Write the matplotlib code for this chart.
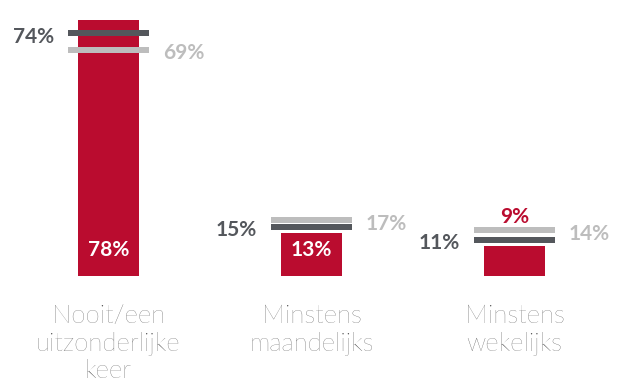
import matplotlib.pyplot as plt

categories = ["Nooit/een\nuitzonderlijke\nkeer", "Minstens\nmaandelijks", "Minstens\nwekelijks"]
current = [78, 13, 9]        # red bars
dark_ref = [74, 15, 11]      # dark grey markers
light_ref = [69, 17, 14]     # light grey markers

RED = "#ba0c2f"
DARK = "#54575c"
LIGHT = "#bdbdbd"
TEXT = "#4a4a4a"

plt.rcParams['font.family'] = ['Lato', 'DejaVu Sans']

fig = plt.figure(figsize=(6.22, 3.82), dpi=100)
ax = fig.add_axes([0, (382 - 276) / 382, 1, 262.4 / 382])
ax.set_xlim(-108.5 / 203, (622 - 108.5) / 203)
ax.set_ylim(0, 80)
ax.axis('off')

x = list(range(len(categories)))
bar_w = 61 / 203
mark_w = 81 / 203
lw = 6 * 0.72
fs = 15

ax.bar(x, current, width=bar_w, color=RED, zorder=1)

for i in x:
    # reference markers
    ax.plot([i - mark_w / 2, i + mark_w / 2], [light_ref[i]] * 2, color=LIGHT,
            lw=lw, solid_capstyle='butt', zorder=2)
    ax.plot([i - mark_w / 2, i + mark_w / 2], [dark_ref[i]] * 2, color=DARK,
            lw=lw, solid_capstyle='butt', zorder=3)

    ax.annotate(f"{dark_ref[i]}%", (i - mark_w / 2, dark_ref[i]), xytext=(-10, -2.5),
                textcoords='offset points', ha='right', va='center',
                fontsize=fs, fontweight='bold', color=DARK)
    ax.annotate(f"{light_ref[i]}%", (i + mark_w / 2, light_ref[i]), xytext=(10, -2.5),
                textcoords='offset points', ha='left', va='center',
                fontsize=fs, fontweight='bold', color=LIGHT)

    # value label: inside the bar when there is room, otherwise above the markers
    if current[i] >= 12:
        ax.annotate(f"{current[i]}%", (i, 0), xytext=(0, 18.5),
                    textcoords='offset points', ha='center', va='center',
                    fontsize=fs, fontweight='bold', color='white')
    else:
        top = max(current[i], dark_ref[i], light_ref[i])
        ax.annotate(f"{current[i]}%", (i, top), xytext=(0, 2),
                    textcoords='offset points', ha='center', va='bottom',
                    fontsize=fs, fontweight='bold', color=RED)

    ax.annotate(categories[i], (i, 0), xytext=(0, -20), textcoords='offset points',
                ha='center', va='top', fontsize=18.5, fontweight='light',
                color=TEXT, linespacing=1.2, annotation_clip=False)

fig.savefig("out.png", dpi=100)
